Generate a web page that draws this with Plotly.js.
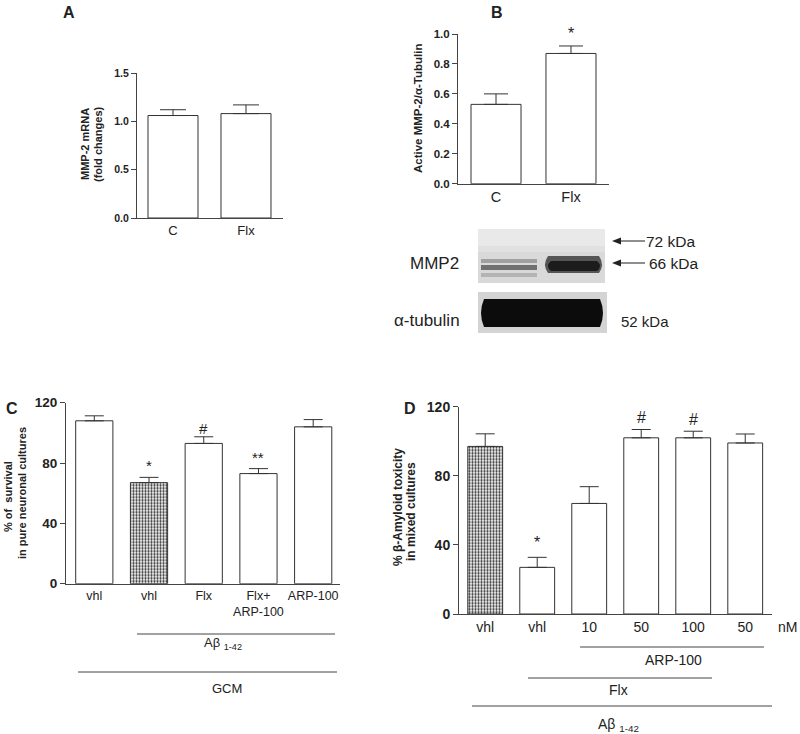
<!DOCTYPE html>
<html>
<head>
<meta charset="utf-8">
<script src="https://cdn.plot.ly/plotly-3.0.1.min.js"></script>
<style>
  body { margin: 0; background: #fff; }
  #fig { width: 800px; height: 734px; }
</style>
</head>
<body>
<div id="fig"></div>
<script>
// panel A: MMP-2 mRNA
const catsA = ['C', 'Flx'];
const valsA = [1.06, 1.08];
const errA = [0.06, 0.09];

// panel B: active MMP-2 / alpha-tubulin
const catsB = ['C', 'Flx'];
const valsB = [0.53, 0.87];
const errB = [0.07, 0.05];
const sigB = ['', '*'];

// panel C: survival in pure neuronal cultures
const catsC = ['vhl', 'vhl', 'Flx', 'Flx+<br>ARP-100', 'ARP-100'];
const valsC = [108, 67, 93, 73, 104];
const errC = [3.3, 3.5, 4.4, 3.3, 4.8];
const sigC = ['', '*', '#', '**', ''];
const patC = ['', '.', '', '', ''];

// panel D: amyloid toxicity in mixed cultures
const catsD = ['vhl', 'vhl', '10', '50', '100', '50'];
const valsD = [97, 27, 64, 102, 102, 99];
const errD = [7.3, 5.8, 9.7, 4.8, 3.8, 5.2];
const sigD = ['', '*', '', '#', '#', ''];
const patD = ['.', '', '', '', '', ''];

const W = 800, H = 734;
const px = x => x / W;
const py = y => 1 - y / H;
const FONT = 'Liberation Sans, Arial, sans-serif';
const INK = '#222';
const LINE = '#444';

function idx(arr) { return arr.map((_, i) => i); }
function zeros(arr) { return arr.map(() => 0); }

function barTrace(vals, err, ax, width, cap, pat) {
  return {
    type: 'bar',
    x: idx(vals), y: vals,
    xaxis: 'x' + ax, yaxis: 'y' + ax,
    width: width,
    marker: {
      color: '#fff',
      line: {color: '#333', width: 1},
      pattern: {shape: pat || '', fgcolor: '#333', bgcolor: '#fff', size: 3, solidity: 0.45}
    },
    error_y: {type: 'data', symmetric: false, array: err, arrayminus: zeros(err),
              color: '#333', thickness: 1, width: cap},
    hoverinfo: 'none'
  };
}

function xAx(cats, x0, x1, lo, hi, anchor, size) {
  return {
    domain: [px(x0), px(x1)], anchor: anchor, range: [lo, hi],
    showline: true, linecolor: LINE, linewidth: 1, ticks: '',
    showgrid: false, zeroline: false,
    tickvals: idx(cats), ticktext: cats,
    tickfont: {family: FONT, size: size, color: INK}
  };
}

function yAx(y0, y1, top, dtick, fmt, anchor, size) {
  return {
    domain: [py(y0), py(y1)], anchor: anchor, range: [0, top],
    showline: true, linecolor: LINE, linewidth: 1,
    ticks: 'outside', ticklen: 5, tickcolor: LINE,
    showgrid: false, zeroline: false, dtick: dtick, tickformat: fmt,
    tickfont: {family: FONT, size: size, color: INK, weight: 'bold'}
  };
}

const data = [
  barTrace(valsA, errA, '', 0.685, 13),
  barTrace(valsB, errB, '2', 0.667, 12),
  barTrace(valsC, errC, '3', 0.68, 9.5, patC),
  barTrace(valsD, errD, '4', 0.67, 9.5, patD)
];

function txt(text, x, y, size, opts) {
  return Object.assign({
    text: text, xref: 'paper', yref: 'paper', x: px(x), y: py(y),
    xanchor: 'center', yanchor: 'middle', showarrow: false,
    font: {family: FONT, size: size, color: INK}
  }, opts || {});
}

function vtxt(text, x, y, size) {
  return txt(text, x, y, size, {textangle: -90,
    font: {family: FONT, size: size, color: INK, weight: 'bold'}});
}

function sigMarks(sig, vals, err, ax, size, shift) {
  const out = [];
  sig.forEach((s, i) => {
    if (!s) return;
    out.push({text: s, xref: 'x' + ax, yref: 'y' + ax, x: i, y: vals[i] + err[i],
              yanchor: 'bottom', yshift: s === '#' ? shift - 3 : shift, showarrow: false,
              font: {family: FONT, size: size, color: INK}});
  });
  return out;
}

const annotations = [
  txt('<b>A</b>', 69, 13, 16),
  txt('<b>B</b>', 497, 13, 16),
  txt('<b>C</b>', 12, 408, 16),
  txt('<b>D</b>', 410, 408, 16),

  vtxt('MMP-2 mRNA', 85, 144, 11),
  vtxt('(fold changes)', 98, 144, 11),
  vtxt('Active MMP-2/\u03b1-Tubulin', 418, 108, 11.5),
  vtxt('% of  survival', 8, 497, 11),
  vtxt('in pure neuronal cultures', 22, 493, 11),
  vtxt('% \u03b2-Amyloid toxicity', 398, 507, 12),
  vtxt('in mixed cultures', 411, 512, 12),

  // western blot labels
  txt('MMP2', 434, 263, 17),
  txt('\u03b1-tubulin', 427, 320, 17),
  txt('72 kDa', 670, 241, 15.5),
  txt('66 kDa', 673, 263, 15.5),
  txt('52 kDa', 645, 321, 15),

  // group labels, panel C
  txt('A\u03b2 <sub>1-42</sub>', 223, 643, 13),
  txt('GCM', 227, 688, 13),

  // group labels, panel D
  txt('nM', 787, 627, 14),
  txt('ARP-100', 673, 660, 14),
  txt('Flx', 618, 690, 14),
  txt('A\u03b2 <sub>1-42</sub>', 618, 725, 14)
].concat(
  sigMarks(sigB, valsB, errB, '2', 16, 2),
  sigMarks(sigC, valsC, errC, '3', 15, 1),
  sigMarks(sigD, valsD, errD, '4', 16, 4)
);

function hline(x0, x1, y, w) {
  return {type: 'line', xref: 'paper', yref: 'paper',
          x0: px(x0), x1: px(x1), y0: py(y), y1: py(y),
          line: {color: LINE, width: w || 1}};
}

function rect(x0, y0, x1, y1, fill, op) {
  return {type: 'rect', xref: 'paper', yref: 'paper',
          x0: px(x0), x1: px(x1), y0: py(y1), y1: py(y0),
          fillcolor: fill, opacity: op === undefined ? 1 : op, line: {width: 0}};
}

function band(x0, x1, yTop, yBot, fill, op) {
  const m = (yTop + yBot) / 2;
  const p = 'M' + px(x0 + 4) + ',' + py(yTop) +
            ' L' + px(x1 - 4) + ',' + py(yTop) +
            ' Q' + px(x1 + 2) + ',' + py(m) + ' ' + px(x1 - 4) + ',' + py(yBot) +
            ' L' + px(x0 + 4) + ',' + py(yBot) +
            ' Q' + px(x0 - 2) + ',' + py(m) + ' ' + px(x0 + 4) + ',' + py(yTop) + ' Z';
  return {type: 'path', xref: 'paper', yref: 'paper', path: p,
          fillcolor: fill, opacity: op === undefined ? 1 : op, line: {width: 0}};
}

function arrowHead(x, y) {
  const p = 'M' + px(x) + ',' + py(y) +
            ' L' + px(x + 9) + ',' + py(y - 3.5) +
            ' L' + px(x + 9) + ',' + py(y + 3.5) + ' Z';
  return {type: 'path', xref: 'paper', yref: 'paper', path: p,
          fillcolor: INK, line: {width: 0}};
}

const shapes = [
  // panel C grouping lines
  hline(137, 335, 634),
  hline(78, 337, 672),
  // panel D grouping lines
  hline(580, 764, 647),
  hline(528, 712, 678),
  hline(472, 772, 706),

  // MMP2 blot
  rect(478, 229, 605, 283, '#d9d9d9'),
  rect(478, 229, 605, 246, '#e9e9e9'),
  rect(478, 246, 605, 252, '#e1e1e1'),
  rect(481, 259, 537, 263, '#a0a0a0'),
  rect(481, 265, 537, 270, '#707070'),
  rect(481, 273, 537, 277, '#b4b4b4'),
  band(544, 603, 256, 273, '#555'),
  band(547, 601, 261, 271, '#1c1c1c'),
  // tubulin blot
  rect(478, 292, 607, 333, '#d4d4d4'),
  band(480, 604, 299, 327, '#0c0c0c'),

  // size arrows
  hline(619, 645, 241, 1.2),
  arrowHead(612, 241),
  hline(619, 645, 263, 1.2),
  arrowHead(612, 263)
];

const layout = {
  width: W, height: H,
  margin: {l: 0, r: 0, t: 0, b: 0},
  paper_bgcolor: '#fff', plot_bgcolor: 'rgba(0,0,0,0)',
  showlegend: false,
  font: {family: FONT, color: INK},
  xaxis: xAx(catsA, 137, 283, -0.493, 1.507, 'y', 13),
  yaxis: yAx(218, 73, 1.5, 0.5, '.1f', 'x', 10.5),
  xaxis2: xAx(catsB, 458, 609, -0.507, 1.507, 'y2', 14.5),
  yaxis2: yAx(183.7, 34, 1.0, 0.2, '.1f', 'x2', 11.5),
  xaxis3: xAx(catsC, 66, 340, -0.517, 4.49, 'y3', 12.5),
  yaxis3: yAx(583.7, 402.7, 120, 40, 'd', 'x3', 13.5),
  xaxis4: xAx(catsD, 459, 772, -0.504, 5.515, 'y4', 14),
  yaxis4: yAx(614, 406.7, 120, 40, 'd', 'x4', 14),
  annotations: annotations,
  shapes: shapes
};

Plotly.newPlot('fig', data, layout, {staticPlot: true, displayModeBar: false});
</script>
</body>
</html>
